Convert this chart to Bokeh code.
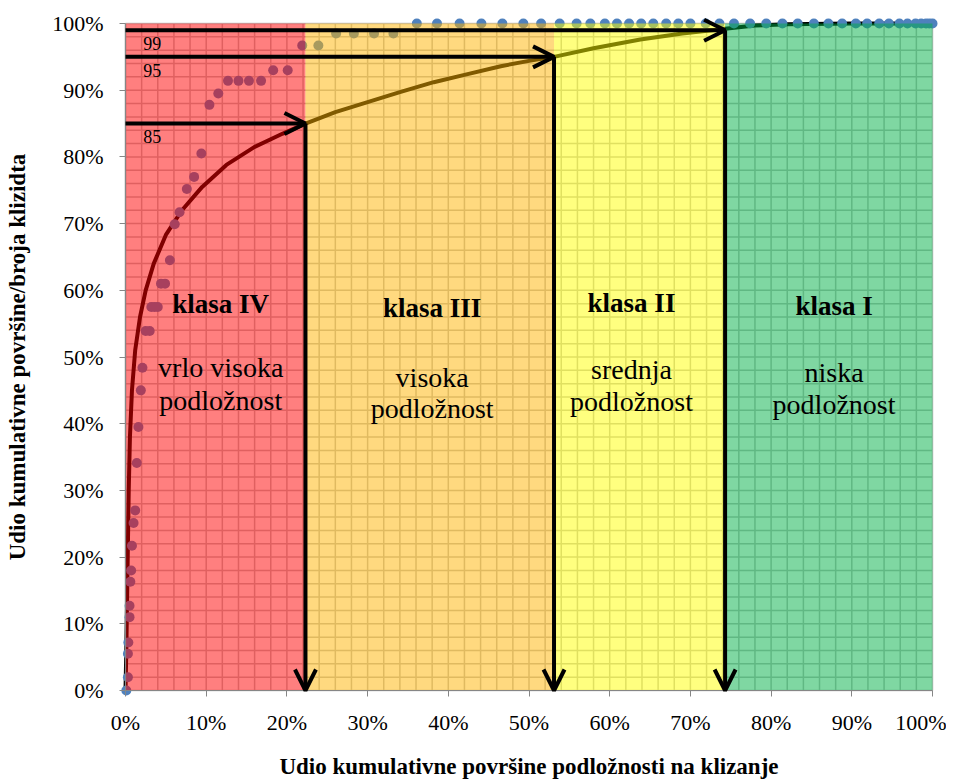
import numpy as np
from bokeh.plotting import figure
from bokeh.models import (Range1d, FixedTicker, PrintfTickFormatter, Arrow,
                          OpenHead, ColumnDataSource)
from bokeh.core.properties import value
from bokeh.embed import file_html
from bokeh.resources import INLINE

# ---------------- data (percent) ----------------
pts_x = [0.1, 0.3, 0.3, 0.35, 0.5, 0.5, 0.6, 0.7, 0.8, 1.0, 1.2, 1.4, 1.6, 1.9, 2.1,
         2.5, 3.0, 3.2, 3.6, 4.0, 4.4, 4.9, 5.5, 6.1, 6.7, 7.6, 8.5, 9.4, 10.4, 11.5,
         12.7, 14.0, 15.3, 16.8, 18.3, 20.1, 21.9, 23.9, 26.1, 28.3, 30.8, 33.2,
         36.1, 38.6, 41.4, 44.1, 46.7, 49.3, 51.5, 53.8, 55.9, 57.6, 59.4, 60.9,
         62.4, 63.9, 65.4, 67.0, 68.5, 70.0, 71.9, 73.6, 75.4, 77.4, 79.4, 81.4,
         83.3, 85.3, 87.1, 88.8, 90.5, 91.9, 93.4, 94.6, 95.9, 96.9, 97.9, 98.6,
         99.2, 99.6, 100.0]
pts_y = [0.0, 2.0, 5.5, 7.2, 11.0, 12.7, 16.3, 18.0, 21.7, 25.1, 27.0, 34.1, 39.5, 45.0, 48.4,
         53.9, 53.9, 57.5, 57.5, 57.5, 61.0, 61.0, 64.5, 69.9, 71.7, 75.2, 77.0, 80.5, 87.8, 89.5,
         91.4, 91.4, 91.4, 91.4, 93.0, 93.0, 96.7, 96.7, 98.5, 98.5, 98.5, 98.5,
         100, 100, 100, 100, 100, 100, 100, 100, 100, 100, 100, 100,
         100, 100, 100, 100, 100, 100, 100, 100, 100, 100, 100, 100,
         100, 100, 100, 100, 100, 100, 100, 100, 100, 100, 100, 100,
         100, 100, 100]

curve_x = [0, 0.1, 0.2, 0.3, 0.4, 0.55, 0.8, 1.2, 1.8, 2.5, 3.5, 5.0, 7.0, 9.5, 12.5,
           16.0, 19.5, 22.3, 26.0, 30.0, 34.0, 38.2, 42.0, 46.5, 50.0, 53.1, 58.0,
           63.8, 69.0, 74.3, 78.0, 82.0, 90.0, 100.0]
curve_y = [0, 6, 14, 22, 30, 38, 45, 51, 56, 60, 64, 68.3, 72, 75.5, 78.8,
           81.5, 83.5, 85.0, 86.7, 88.2, 89.7, 91.2, 92.3, 93.6, 94.4, 95.0, 96.3,
           97.6, 98.5, 99.2, 99.7, 99.9, 100.0, 100.0]

class_bounds = [0, 22.3, 53.1, 74.3, 100]
class_colors = ["#FF0000", "#FFB400", "#FFFF00", "#00B045"]
class_names = ["klasa IV", "klasa III", "klasa II", "klasa I"]
class_desc1 = ["vrlo visoka", "visoka", "srednja", "niska"]
class_desc2 = ["podložnost", "podložnost", "podložnost", "podložnost"]

thresholds = [85, 95, 99]
threshold_x = [22.3, 53.1, 74.3]

ticks = [0, 10, 20, 30, 40, 50, 60, 70, 80, 90, 100]
grid_step = 2

x_title = "Udio kumulativne površine podložnosti na klizanje"
y_title = "Udio kumulativne površine/broja klizidta"

# ---------------- layout (text positions) ----------------
lab_x = [11.8, 38.0, 62.7, 87.8]
lab_y1 = [57.9, 57.3, 58.05, 57.6]
lab_y2 = [48.45, 47.0, 48.1, 47.65]
lab_y3 = [43.5, 42.3, 43.3, 42.9]

FONT = "Liberation Serif"
pad_x = 100 * 6 / 807
pad_y = 100 * 6 / 667

p = figure(frame_width=819, frame_height=679,
           x_range=Range1d(-pad_x, 100 + pad_x), y_range=Range1d(-pad_y, 100 + pad_y),
           output_backend="svg", toolbar_location=None,
           min_border_left=119, min_border_right=8, min_border_top=17, min_border_bottom=84)
p.outline_line_color = None
p.xgrid.visible = False
p.ygrid.visible = False
p.background_fill_color = "white"
p.border_fill_color = "white"

# grid lines (under translucent fills)
g = np.arange(0, 100 + 1e-9, grid_step)
lo, hi = ticks[0], ticks[-1]
p.segment(x0=g, y0=[lo] * len(g), x1=g, y1=[hi] * len(g), line_color="#C0C0C0", line_width=1.5)
p.segment(x0=[lo] * len(g), y0=g, x1=[hi] * len(g), y1=g, line_color="#C0C0C0", line_width=1.5)

# curve and points (under fills)
p.line(curve_x, curve_y, line_color="black", line_width=4, line_join="round")
p.scatter(pts_x, pts_y, size=10, color="#4F81BD", line_color=None)

# class fills
p.quad(left=class_bounds[:-1], right=class_bounds[1:], bottom=lo, top=hi,
       fill_color=class_colors, fill_alpha=0.5, line_color=None)

# axis lines
p.segment(x0=[lo, lo], y0=[lo, lo], x1=[hi, lo], y1=[lo, hi], line_color="#868686", line_width=1.2)

# arrows
n = len(thresholds)
src = ColumnDataSource(dict(
    xs=[0] * n + threshold_x, ys=thresholds + thresholds,
    xe=threshold_x + threshold_x, ye=thresholds + [0] * n))
p.add_layout(Arrow(end=OpenHead(size=21, line_width=4, line_color="black"),
                   x_start="xs", y_start="ys", x_end="xe", y_end="ye", source=src,
                   line_width=4, line_color="black"))

# threshold labels
p.text(x=[2.2] * n, y=[t - 2.0 for t in thresholds], text=[str(t) for t in thresholds],
       text_font=value(FONT), text_font_size="18px", text_baseline="alphabetic",
       text_align="left", text_color="black")

# class labels
p.text(x=lab_x, y=lab_y1, text=class_names, text_font=value(FONT), text_font_size="27px",
       text_font_style="bold", text_align="center", text_baseline="alphabetic", text_color="black")
p.text(x=lab_x, y=lab_y2, text=class_desc1, text_font=value(FONT), text_font_size="28px",
       text_align="center", text_baseline="alphabetic", text_color="black")
p.text(x=lab_x, y=lab_y3, text=class_desc2, text_font=value(FONT), text_font_size="28px",
       text_align="center", text_baseline="alphabetic", text_color="black")

# axes
for ax in (p.xaxis[0], p.yaxis[0]):
    ax.ticker = FixedTicker(ticks=ticks)
    ax.formatter = PrintfTickFormatter(format="%d%%")
    ax.axis_line_color = None
    ax.major_tick_in = 6
    ax.major_tick_out = 0
    ax.major_tick_line_color = "#868686"
    ax.minor_tick_line_color = None
    ax.major_label_text_font = FONT
    ax.major_label_text_font_size = "22px"
    ax.major_label_text_color = "black"
    ax.axis_label_text_font = FONT
    ax.axis_label_text_font_size = "23px"
    ax.axis_label_text_font_style = "bold"
    ax.axis_label_text_color = "black"

p.xaxis.axis_label = x_title
p.yaxis.axis_label = y_title
p.xaxis.major_label_standoff = 13
p.xaxis.axis_label_standoff = 16
p.yaxis.major_label_standoff = 16
p.yaxis.axis_label_standoff = 19

open("out.html", "w").write(file_html(p, INLINE))
